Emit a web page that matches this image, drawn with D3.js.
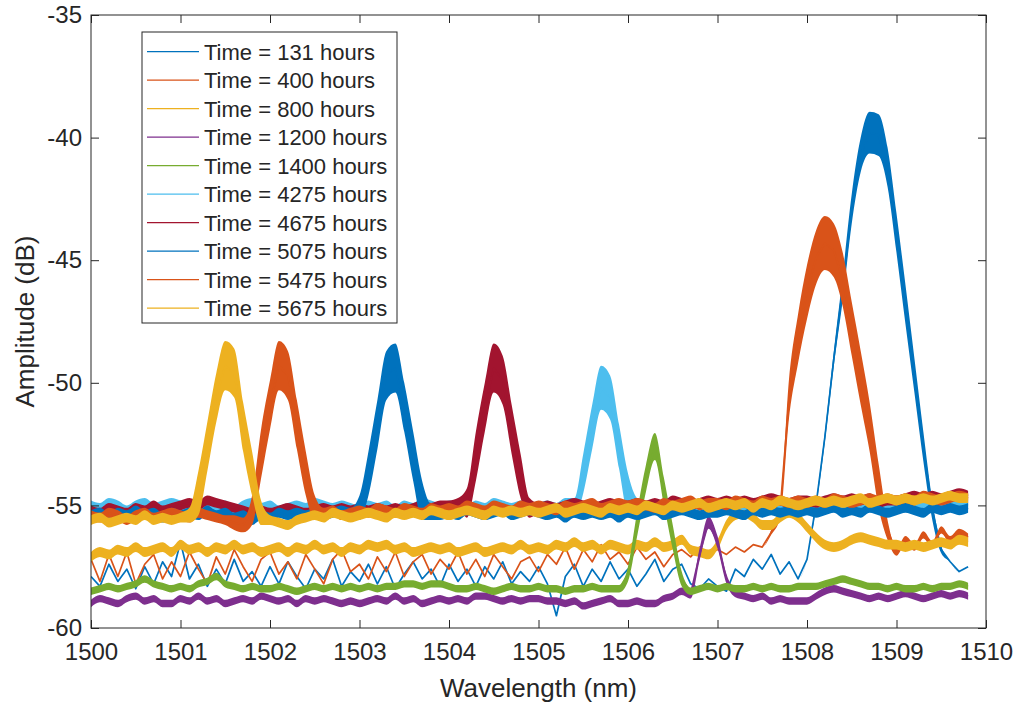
<!DOCTYPE html>
<html>
<head>
<meta charset="utf-8">
<script src="https://cdn.jsdelivr.net/npm/d3@7"></script>
<style>
  body { margin: 0; background: #fff; }
  text { font-family: "Liberation Sans", Arial, Helvetica, sans-serif; fill: #262626; }
</style>
</head>
<body>
<svg id="chart" width="1015" height="706"></svg>
<script>
const hours = [131, 400, 800, 1200, 1400, 4275, 4675, 5075, 5475, 5675];
const xTicks = [1500, 1501, 1502, 1503, 1504, 1505, 1506, 1507, 1508, 1509, 1510];
const yTicks = [-60, -55, -50, -45, -40, -35];
const wavelength = d3.range(99).map(i => +(1500 + i * 0.1).toFixed(1));

const amp131 = [
  -57.9,-58.3,-57.4,-58.1,-57.6,-58.4,-57.5,-58.2,-57.3,-57.9,
  -56.5,-58.0,-57.4,-58.3,-57.6,-58.2,-57.2,-58.1,-57.7,-58.3,
  -57.5,-58.2,-57.3,-57.9,-58.4,-57.6,-58.0,-57.2,-58.3,-57.7,
  -58.1,-57.4,-58.2,-57.5,-58.4,-57.8,-57.3,-58.0,-57.6,-58.3,
  -57.4,-58.1,-57.6,-58.3,-57.5,-58.0,-57.3,-58.2,-57.7,-58.1,
  -57.5,-58.2,-59.5,-57.9,-57.4,-58.3,-57.6,-58.1,-57.3,-58.0,
  -57.6,-58.3,-57.8,-57.2,-58.1,-57.6,-57.4,-58.2,-58.4,-58.0,
  -58.3,-58.5,-57.6,-57.9,-57.2,-57.6,-57.0,-57.8,-57.3,-58.0,
  -57.2,-55.0,-52.2,-49.0,-46.1,-42.9,-40.7,-39.8,-39.9,-41.2,
  -43.9,-46.8,-49.7,-52.6,-55.2,-56.8,-57.3,-57.7,-57.5
];
const amp400 = [
  -57.2,-58.1,-57.0,-57.9,-56.9,-58.2,-57.4,-57.0,-58.0,-57.3,
  -57.9,-56.9,-57.6,-58.2,-57.1,-57.8,-56.8,-57.5,-58.1,-57.2,
  -56.9,-57.8,-57.3,-58.0,-57.0,-57.6,-58.2,-57.2,-56.8,-57.7,
  -57.4,-58.0,-57.1,-57.7,-56.9,-57.9,-57.3,-57.0,-57.8,-57.2,
  -57.6,-56.9,-57.8,-57.2,-57.9,-57.0,-57.5,-58.0,-57.3,-57.1,
  -57.7,-57.0,-57.4,-56.7,-57.6,-56.8,-57.3,-56.6,-57.2,-56.9,
  -57.4,-56.7,-57.2,-56.9,-57.5,-57.0,-56.8,-57.1,-56.7,-57.0,
  -56.8,-57.0,-56.7,-56.9,-56.6,-56.7,-56.1,-55.2,-50.6,-48.2,
  -46.3,-44.9,-44.3,-44.6,-45.8,-47.8,-49.8,-51.8,-54.2,-56.0,
  -56.9,-56.4,-56.7,-56.2,-56.6,-56.0,-56.4,-56.1,-56.3
];
const amp800 = [
  -57.1,-56.9,-57.0,-56.8,-56.9,-56.7,-56.9,-56.8,-56.7,-56.9,
  -56.6,-56.8,-56.7,-56.9,-56.7,-56.8,-56.6,-56.8,-56.7,-56.9,
  -56.8,-56.7,-56.9,-56.7,-56.8,-56.6,-56.8,-56.7,-56.9,-56.7,
  -56.8,-56.6,-56.7,-56.6,-56.8,-56.7,-56.9,-56.8,-56.7,-56.8,
  -56.7,-56.9,-56.8,-56.7,-56.9,-56.8,-56.7,-56.8,-56.6,-56.8,
  -56.7,-56.8,-56.6,-56.7,-56.5,-56.7,-56.6,-56.8,-56.6,-56.7,
  -56.8,-56.6,-56.7,-56.5,-56.7,-56.6,-56.4,-56.8,-56.9,-57.0,
  -56.6,-55.8,-55.4,-55.3,-55.5,-55.8,-55.8,-55.5,-55.3,-55.5,
  -55.9,-56.3,-56.6,-56.7,-56.6,-56.4,-56.3,-56.4,-56.5,-56.6,
  -56.6,-56.7,-56.6,-56.7,-56.6,-56.5,-56.6,-56.4,-56.5
];
const amp1200 = [
  -59.0,-58.8,-58.9,-59.0,-58.8,-58.7,-58.9,-58.8,-59.0,-59.0,
  -58.8,-58.9,-58.7,-58.9,-58.8,-59.0,-58.9,-58.8,-58.9,-58.7,
  -58.8,-58.9,-58.8,-59.0,-58.8,-58.9,-58.8,-58.9,-59.0,-58.9,
  -59.0,-58.9,-58.8,-58.9,-58.7,-58.9,-58.8,-59.0,-58.9,-58.8,
  -58.9,-58.8,-58.9,-58.7,-58.7,-58.8,-58.9,-58.8,-58.9,-58.8,
  -58.8,-58.9,-58.9,-59.0,-58.9,-59.1,-59.0,-58.9,-58.8,-59.0,
  -59.0,-58.9,-59.0,-59.0,-58.8,-58.7,-58.5,-58.6,-57.0,-55.7,
  -56.5,-58.0,-58.6,-58.7,-58.8,-58.7,-58.9,-58.8,-58.9,-58.9,
  -58.9,-58.7,-58.5,-58.4,-58.5,-58.6,-58.7,-58.8,-58.7,-58.8,
  -58.7,-58.6,-58.7,-58.8,-58.7,-58.6,-58.7,-58.6,-58.7
];
const amp1400 = [
  -58.5,-58.4,-58.3,-58.4,-58.3,-58.2,-58.0,-58.2,-58.3,-58.4,
  -58.3,-58.4,-58.2,-58.1,-57.9,-58.2,-58.3,-58.4,-58.3,-58.4,
  -58.4,-58.3,-58.4,-58.5,-58.4,-58.3,-58.4,-58.3,-58.4,-58.3,
  -58.4,-58.3,-58.4,-58.3,-58.3,-58.2,-58.2,-58.3,-58.2,-58.2,
  -58.3,-58.4,-58.4,-58.3,-58.4,-58.5,-58.4,-58.3,-58.4,-58.4,
  -58.3,-58.4,-58.4,-58.5,-58.4,-58.4,-58.3,-58.4,-58.4,-58.4,
  -57.8,-55.8,-53.9,-52.6,-54.4,-56.3,-58.0,-58.5,-58.4,-58.3,
  -58.4,-58.3,-58.4,-58.4,-58.3,-58.4,-58.3,-58.4,-58.4,-58.3,
  -58.3,-58.3,-58.2,-58.1,-58.0,-58.1,-58.2,-58.3,-58.3,-58.4,
  -58.3,-58.4,-58.4,-58.3,-58.4,-58.3,-58.3,-58.2,-58.3
];
const amp4275 = [
  -55.0,-55.1,-54.9,-55.0,-55.2,-55.0,-54.9,-55.1,-55.0,-54.9,
  -55.0,-55.1,-55.0,-54.9,-55.1,-55.0,-55.2,-55.0,-54.9,-55.1,
  -55.0,-55.2,-55.1,-55.0,-55.1,-54.9,-55.0,-55.1,-55.0,-55.1,
  -55.2,-55.0,-55.1,-55.0,-55.2,-55.0,-55.1,-54.9,-55.0,-55.1,
  -55.0,-55.1,-55.2,-55.0,-55.1,-54.9,-55.0,-55.1,-55.0,-55.2,
  -55.1,-55.0,-55.1,-54.9,-55.1,-53.7,-51.8,-50.2,-50.6,-52.6,
  -54.5,-55.0,-55.1,-55.0,-55.1,-54.9,-55.0,-55.1,-55.0,-54.9,
  -55.0,-55.1,-54.9,-55.0,-55.0,-54.9,-55.1,-55.0,-54.9,-55.0,
  -55.0,-54.9,-55.1,-55.0,-54.9,-55.0,-55.1,-54.9,-55.0,-55.0,
  -54.9,-55.0,-55.1,-54.9,-55.0,-54.9,-55.0,-54.9,-55.0
];
const amp4675 = [
  -55.2,-55.3,-55.1,-55.2,-55.3,-55.1,-55.2,-55.0,-55.2,-55.1,
  -55.0,-54.9,-55.0,-54.8,-54.9,-55.0,-55.1,-55.2,-55.3,-55.2,
  -55.3,-55.2,-55.1,-55.2,-55.3,-55.2,-55.1,-55.2,-55.1,-55.2,
  -55.1,-55.2,-55.1,-55.2,-55.1,-55.2,-55.1,-55.0,-55.1,-55.0,
  -55.0,-54.9,-54.9,-53.0,-51.0,-49.4,-49.9,-51.9,-53.8,-55.1,
  -55.1,-55.0,-55.1,-55.0,-54.9,-55.0,-55.1,-55.0,-54.9,-55.0,
  -55.0,-54.9,-55.0,-54.9,-55.0,-54.8,-54.9,-55.0,-54.9,-54.8,
  -54.9,-54.8,-54.9,-54.8,-54.9,-54.8,-54.7,-54.8,-54.9,-54.8,
  -54.8,-54.9,-54.8,-54.7,-54.8,-54.7,-54.8,-54.7,-54.9,-54.8,
  -54.8,-54.7,-54.6,-54.7,-54.6,-54.7,-54.6,-54.5,-54.6
];
const amp5075 = [
  -55.4,-55.3,-55.5,-55.3,-55.4,-55.2,-55.4,-55.3,-55.5,-55.3,
  -55.4,-55.3,-55.4,-55.2,-55.4,-55.3,-55.5,-55.4,-55.6,-55.4,
  -55.5,-55.3,-55.4,-55.3,-55.4,-55.3,-55.4,-55.3,-55.2,-55.3,
  -55.1,-53.7,-51.7,-49.7,-49.4,-51.0,-53.0,-54.8,-55.3,-55.4,
  -55.3,-55.4,-55.2,-55.3,-55.4,-55.3,-55.2,-55.4,-55.3,-55.2,
  -55.3,-55.4,-55.3,-55.5,-55.3,-55.4,-55.3,-55.4,-55.3,-55.5,
  -55.3,-55.4,-55.3,-55.2,-55.4,-55.3,-55.2,-55.3,-55.4,-55.3,
  -55.3,-55.2,-55.3,-55.4,-55.2,-55.3,-55.2,-55.3,-55.2,-55.3,
  -55.2,-55.3,-55.2,-55.1,-55.3,-55.2,-55.3,-55.1,-55.2,-55.3,
  -55.2,-55.1,-55.2,-55.3,-55.1,-55.2,-55.1,-55.2,-55.1
];
const amp5475 = [
  -55.4,-55.5,-55.3,-55.4,-55.6,-55.4,-55.3,-55.5,-55.4,-55.3,
  -55.4,-55.5,-55.3,-55.4,-55.5,-55.6,-55.7,-55.8,-55.2,-52.9,
  -50.9,-49.3,-49.7,-51.7,-53.7,-55.1,-55.3,-55.2,-55.4,-55.3,
  -55.2,-55.3,-55.1,-55.2,-55.3,-55.1,-55.2,-55.3,-55.1,-55.2,
  -55.1,-55.2,-55.0,-55.1,-55.2,-55.0,-55.1,-55.2,-55.0,-55.1,
  -55.0,-55.1,-55.2,-55.0,-55.1,-55.0,-54.9,-55.1,-55.0,-54.9,
  -55.0,-54.9,-55.0,-55.1,-54.9,-55.0,-54.9,-54.8,-55.0,-54.9,
  -54.9,-55.0,-54.8,-54.9,-55.0,-54.8,-54.9,-54.8,-54.9,-54.8,
  -54.9,-54.8,-54.9,-54.7,-54.8,-54.9,-54.8,-54.7,-54.8,-54.7,
  -54.8,-54.7,-54.8,-54.6,-54.7,-54.8,-54.7,-54.6,-54.7
];
const amp5675 = [
  -55.6,-55.5,-55.7,-55.6,-55.5,-55.6,-55.4,-55.6,-55.5,-55.6,
  -55.5,-55.4,-54.5,-52.6,-50.6,-49.3,-49.6,-51.8,-53.7,-55.3,
  -55.6,-55.7,-55.8,-55.6,-55.5,-55.4,-55.5,-55.3,-55.4,-55.5,
  -55.4,-55.3,-55.4,-55.5,-55.3,-55.4,-55.3,-55.4,-55.2,-55.3,
  -55.4,-55.3,-55.2,-55.3,-55.4,-55.2,-55.3,-55.2,-55.3,-55.2,
  -55.3,-55.2,-55.1,-55.3,-55.2,-55.1,-55.2,-55.3,-55.1,-55.2,
  -55.1,-55.2,-55.0,-55.1,-55.2,-55.0,-55.1,-55.0,-54.9,-55.1,
  -55.0,-54.9,-55.0,-54.9,-55.1,-54.9,-55.0,-54.8,-54.9,-55.0,
  -54.9,-54.8,-54.9,-54.8,-54.9,-54.8,-54.7,-54.9,-54.8,-54.7,
  -54.8,-54.7,-54.8,-54.7,-54.8,-54.7,-54.6,-54.7,-54.7
];

// half-width (dB) of the noise band around each trace
const spread131 = [
  0,0,0,0,0,0,0,0,0,0, 0,0,0,0,0,0,0,0,0,0, 0,0,0,0,0,0,0,0,0,0, 0,0,0,0,0,0,0,0,0,0,
  0,0,0,0,0,0,0,0,0,0, 0,0,0,0,0,0,0,0,0,0, 0,0,0,0,0,0,0,0,0,0, 0,0,0,0,0,0,0,0,0,0,
  0,0.1,0.2,0.3,0.5,0.6,0.7,0.85,0.85,0.8,
  0.8,0.8,0.7,0.6,0.4,0.15,0,0,0
];
const spread400 = [
  0,0,0,0,0,0,0,0,0,0, 0,0,0,0,0,0,0,0,0,0, 0,0,0,0,0,0,0,0,0,0, 0,0,0,0,0,0,0,0,0,0,
  0,0,0,0,0,0,0,0,0,0, 0,0,0,0,0,0,0,0,0,0, 0,0,0,0,0,0,0,0,0,0,
  0,0,0,0,0,0,0.1,0.3,0.8,1.0,
  1.1,1.1,1.1,1.1,1.1,1.1,1.1,1.0,0.9,0.4,
  0.15,0.15,0.15,0.15,0.15,0.15,0.15,0.15,0.15
];
const spread800 = [
  0.2,0.2,0.2,0.2,0.2,0.2,0.2,0.2,0.2,0.2, 0.2,0.2,0.2,0.2,0.2,0.2,0.2,0.2,0.2,0.2,
  0.2,0.2,0.2,0.2,0.2,0.2,0.2,0.2,0.2,0.2, 0.2,0.2,0.2,0.2,0.2,0.2,0.2,0.2,0.2,0.2,
  0.2,0.2,0.2,0.2,0.2,0.2,0.2,0.2,0.2,0.2, 0.2,0.2,0.2,0.2,0.2,0.2,0.2,0.2,0.2,0.2,
  0.2,0.2,0.2,0.2,0.2,0.2,0.2,0.2,0.2,0.2, 0.2,0.2,0.2,0.2,0.2,0.2,0.2,0.2,0.2,0.2,
  0.2,0.2,0.2,0.2,0.2,0.2,0.2,0.2,0.2,0.2, 0.2,0.2,0.2,0.2,0.2,0.2,0.2,0.2,0.2
];
const spread1200 = [
  0.15,0.15,0.15,0.15,0.15,0.15,0.15,0.15,0.15,0.15, 0.15,0.15,0.15,0.15,0.15,0.15,0.15,0.15,0.15,0.15,
  0.15,0.15,0.15,0.15,0.15,0.15,0.15,0.15,0.15,0.15, 0.15,0.15,0.15,0.15,0.15,0.15,0.15,0.15,0.15,0.15,
  0.15,0.15,0.15,0.15,0.15,0.15,0.15,0.15,0.15,0.15, 0.15,0.15,0.15,0.15,0.15,0.15,0.15,0.15,0.15,0.15,
  0.15,0.15,0.15,0.15,0.15,0.15,0.15,0.2,0.25,0.25, 0.25,0.2,0.15,0.15,0.15,0.15,0.15,0.15,0.15,0.15,
  0.15,0.15,0.15,0.15,0.15,0.15,0.15,0.15,0.15,0.15, 0.15,0.15,0.15,0.15,0.15,0.15,0.15,0.15,0.15
];
const spread1400 = [
  0.15,0.15,0.15,0.15,0.15,0.15,0.15,0.15,0.15,0.15, 0.15,0.15,0.15,0.15,0.15,0.15,0.15,0.15,0.15,0.15,
  0.15,0.15,0.15,0.15,0.15,0.15,0.15,0.15,0.15,0.15, 0.15,0.15,0.15,0.15,0.15,0.15,0.15,0.15,0.15,0.15,
  0.15,0.15,0.15,0.15,0.15,0.15,0.15,0.15,0.15,0.15, 0.15,0.15,0.15,0.15,0.15,0.15,0.15,0.15,0.15,0.15,
  0.3,0.5,0.55,0.55,0.55,0.5,0.3,0.15,0.15,0.15,
  0.15,0.15,0.15,0.15,0.15,0.15,0.15,0.15,0.15,0.15, 0.15,0.15,0.15,0.15,0.15,0.15,0.15,0.15,0.15,0.15,
  0.15,0.15,0.15,0.15,0.15,0.15,0.15,0.15,0.15
];
const spread4275 = [
  0.2,0.2,0.2,0.2,0.2,0.2,0.2,0.2,0.2,0.2, 0.2,0.2,0.2,0.2,0.2,0.2,0.2,0.2,0.2,0.2,
  0.2,0.2,0.2,0.2,0.2,0.2,0.2,0.2,0.2,0.2, 0.2,0.2,0.2,0.2,0.2,0.2,0.2,0.2,0.2,0.2,
  0.2,0.2,0.2,0.2,0.2,0.2,0.2,0.2,0.2,0.2,
  0.2,0.2,0.2,0.2,0.4,0.8,0.9,0.9,0.9,0.9,
  0.8,0.3,0.2,0.2,0.2,0.2,0.2,0.2,0.2,0.2,
  0.2,0.2,0.2,0.2,0.2,0.2,0.2,0.2,0.2,0.2, 0.2,0.2,0.2,0.2,0.2,0.2,0.2,0.2,0.2,0.2,
  0.2,0.2,0.2,0.2,0.2,0.2,0.2,0.2,0.2
];
const spread4675 = [
  0.2,0.2,0.2,0.2,0.2,0.2,0.2,0.2,0.2,0.2, 0.2,0.2,0.2,0.2,0.2,0.2,0.2,0.2,0.2,0.2,
  0.2,0.2,0.2,0.2,0.2,0.2,0.2,0.2,0.2,0.2, 0.2,0.2,0.2,0.2,0.2,0.2,0.2,0.2,0.2,0.2,
  0.2,0.2,0.6,1.0,1.0,1.0,1.0,1.0,0.9,0.4,
  0.2,0.2,0.2,0.2,0.2,0.2,0.2,0.2,0.2,0.2, 0.2,0.2,0.2,0.2,0.2,0.2,0.2,0.2,0.2,0.2,
  0.2,0.2,0.2,0.2,0.2,0.2,0.2,0.2,0.2,0.2, 0.2,0.2,0.2,0.2,0.2,0.2,0.2,0.2,0.2,0.2,
  0.2,0.2,0.2,0.2,0.2,0.2,0.2,0.2,0.2
];
const spread5075 = [
  0.2,0.2,0.2,0.2,0.2,0.2,0.2,0.2,0.2,0.2, 0.2,0.2,0.2,0.2,0.2,0.2,0.2,0.2,0.2,0.2,
  0.2,0.2,0.2,0.2,0.2,0.2,0.2,0.2,0.2,0.2,
  0.5,0.9,1.0,1.0,1.0,1.0,1.0,0.8,0.3,0.2,
  0.2,0.2,0.2,0.2,0.2,0.2,0.2,0.2,0.2,0.2, 0.2,0.2,0.2,0.2,0.2,0.2,0.2,0.2,0.2,0.2,
  0.2,0.2,0.2,0.2,0.2,0.2,0.2,0.2,0.2,0.2, 0.2,0.2,0.2,0.2,0.2,0.2,0.2,0.2,0.2,0.2,
  0.2,0.2,0.2,0.2,0.2,0.2,0.2,0.2,0.2,0.2,
  0.2,0.2,0.2,0.2,0.2,0.2,0.2,0.2,0.2
];
const spread5475 = [
  0.2,0.2,0.2,0.2,0.2,0.2,0.2,0.2,0.2,0.2,
  0.2,0.2,0.2,0.2,0.2,0.2,0.3,0.3,0.6,1.0,
  1.0,1.0,1.0,1.0,0.9,0.5,0.2,0.2,0.2,0.2,
  0.2,0.2,0.2,0.2,0.2,0.2,0.2,0.2,0.2,0.2, 0.2,0.2,0.2,0.2,0.2,0.2,0.2,0.2,0.2,0.2,
  0.2,0.2,0.2,0.2,0.2,0.2,0.2,0.2,0.2,0.2, 0.2,0.2,0.2,0.2,0.2,0.2,0.2,0.2,0.2,0.2,
  0.2,0.2,0.2,0.2,0.2,0.2,0.2,0.2,0.2,0.2, 0.2,0.2,0.2,0.2,0.2,0.2,0.2,0.2,0.2,0.2,
  0.2,0.2,0.2,0.2,0.2,0.2,0.2,0.2,0.2
];
const spread5675 = [
  0.2,0.2,0.2,0.2,0.2,0.2,0.2,0.2,0.2,0.2,
  0.2,0.3,0.9,1.0,1.0,1.0,1.0,1.0,0.9,0.5,
  0.2,0.2,0.2,0.2,0.2,0.2,0.2,0.2,0.2,0.2, 0.2,0.2,0.2,0.2,0.2,0.2,0.2,0.2,0.2,0.2,
  0.2,0.2,0.2,0.2,0.2,0.2,0.2,0.2,0.2,0.2, 0.2,0.2,0.2,0.2,0.2,0.2,0.2,0.2,0.2,0.2,
  0.2,0.2,0.2,0.2,0.2,0.2,0.2,0.2,0.2,0.2, 0.2,0.2,0.2,0.2,0.2,0.2,0.2,0.2,0.2,0.2,
  0.2,0.2,0.2,0.2,0.2,0.2,0.2,0.2,0.2,0.2,
  0.2,0.2,0.2,0.2,0.2,0.2,0.2,0.2,0.2
];

const amplitudes = [amp131, amp400, amp800, amp1200, amp1400, amp4275, amp4675, amp5075, amp5475, amp5675];
const spreads = [spread131, spread400, spread800, spread1200, spread1400, spread4275, spread4675, spread5075, spread5475, spread5675];

// matlab default line colour order
const colors = ["#0072BD", "#D95319", "#EDB120", "#7E2F8E", "#77AC30", "#4DBEEE", "#A2142F", "#0072BD", "#D95319", "#EDB120"];

const axisColor = "#262626";
const svg = d3.select("#chart");
const x = d3.scaleLinear().domain([1500, 1510]).range([91, 986]);
const y = d3.scaleLinear().domain([-60, -35]).range([628, 15]);

svg.append("rect").attr("width", 1015).attr("height", 706).attr("fill", "#fff");

svg.append("clipPath").attr("id", "plotClip")
  .append("rect")
  .attr("x", x(1500)).attr("y", y(-35))
  .attr("width", x(1510) - x(1500)).attr("height", y(-60) - y(-35));

const plot = svg.append("g").attr("clip-path", "url(#plotClip)");

const band = d3.area()
  .curve(d3.curveMonotoneX)
  .x(d => x(d.w))
  .y0(d => y(d.a - d.s))
  .y1(d => y(d.a + d.s));
const trace = d3.line().x(d => x(d.w)).y(d => y(d.a));

hours.forEach((h, k) => {
  const pts = wavelength.map((w, i) => ({ w: w, a: amplitudes[k][i], s: spreads[k][i] }));
  // noise band
  plot.append("path")
    .datum(pts)
    .attr("d", band)
    .attr("fill", colors[k]);
  // trace
  plot.append("path")
    .datum(pts)
    .attr("d", trace)
    .attr("fill", "none")
    .attr("stroke", colors[k])
    .attr("stroke-width", 1.7)
    .attr("stroke-linejoin", "round");
});

// axes, ticks pointing inward on all four sides like matlab's box
const fmt = d => String(d);
const axBottom = svg.append("g").attr("transform", `translate(0,${y(-60)})`)
  .call(d3.axisBottom(x).tickValues(xTicks).tickSize(-8).tickPadding(15).tickFormat(fmt));
const axTop = svg.append("g").attr("transform", `translate(0,${y(-35)})`)
  .call(d3.axisTop(x).tickValues(xTicks).tickSize(-8).tickFormat(""));
const axLeft = svg.append("g").attr("transform", `translate(${x(1500)},0)`)
  .call(d3.axisLeft(y).tickValues(yTicks).tickSize(-8).tickPadding(9).tickFormat(fmt));
const axRight = svg.append("g").attr("transform", `translate(${x(1510)},0)`)
  .call(d3.axisRight(y).tickValues(yTicks).tickSize(-8).tickFormat(""));

[axBottom, axTop, axLeft, axRight].forEach(g => {
  g.attr("font-family", null).attr("font-size", null);
  g.select(".domain").remove();
  g.selectAll(".tick line").attr("stroke", axisColor).attr("stroke-width", 1);
  g.selectAll(".tick text").attr("font-size", 24).attr("fill", axisColor);
});

svg.append("rect")
  .attr("x", x(1500)).attr("y", y(-35))
  .attr("width", x(1510) - x(1500)).attr("height", y(-60) - y(-35))
  .attr("fill", "none").attr("stroke", axisColor).attr("stroke-width", 1);

svg.append("text")
  .attr("x", (x(1500) + x(1510)) / 2).attr("y", 697)
  .attr("text-anchor", "middle").attr("font-size", 26)
  .text("Wavelength (nm)");

svg.append("text")
  .attr("transform", `translate(34,${(y(-60) + y(-35)) / 2}) rotate(-90)`)
  .attr("text-anchor", "middle").attr("font-size", 26)
  .text("Amplitude (dB)");

// legend
const legend = svg.append("g");
legend.append("rect")
  .attr("x", 142).attr("y", 32).attr("width", 255).attr("height", 291)
  .attr("fill", "#fff").attr("stroke", axisColor).attr("stroke-width", 1);

hours.forEach((h, k) => {
  const cy = 51.7 + k * 28.5;
  legend.append("line")
    .attr("x1", 147).attr("x2", 199).attr("y1", cy).attr("y2", cy)
    .attr("stroke", colors[k]).attr("stroke-width", 1.2);
  legend.append("text")
    .attr("x", 204).attr("y", cy).attr("dy", "0.36em")
    .attr("font-size", 22)
    .text(`Time = ${h} hours`);
});
</script>
</body>
</html>
